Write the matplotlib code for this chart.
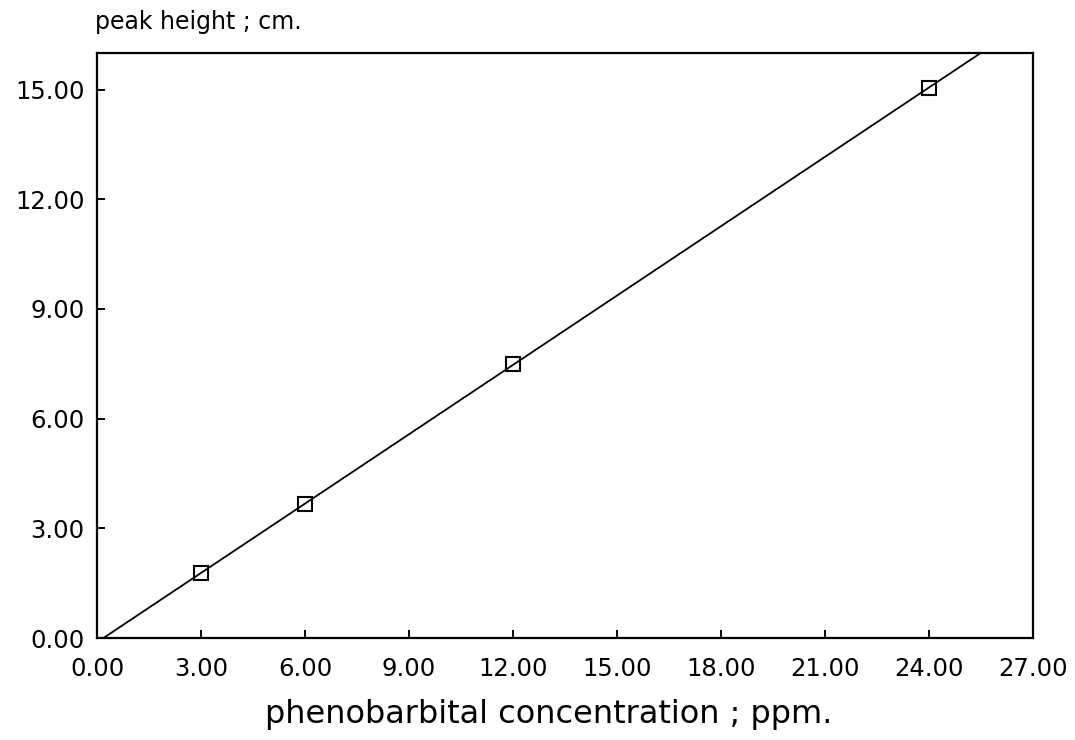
import numpy as np
import matplotlib.pyplot as plt

plt.rcParams['font.family'] = ['DejaVu Sans']

# phenobarbital standards: concentration (ppm) vs peak height (cm)
conc = [3.0, 6.0, 12.0, 24.0]
peak = [1.78, 3.66, 7.49, 15.05]

x_ticks = np.arange(0, 27.01, 3)
y_ticks = np.arange(0, 15.01, 3)

# least squares calibration line
slope, intercept = np.polyfit(conc, peak, 1)
xl = np.array([0, 27])

fig = plt.figure(figsize=(10.75, 7.4), dpi=100)
ax = fig.add_axes([97 / 1075, 1 - 638 / 740, (1033 - 97) / 1075, (638 - 53) / 740])

ax.plot(xl, slope * xl + intercept, color='black', lw=1.3)
ax.plot(conc, peak, 's', mfc='none', mec='black', ms=10, mew=1.5)

ax.set_xlim(0, 27)
ax.set_ylim(0, 16)
ax.set_xticks(x_ticks)
ax.set_yticks(y_ticks)
ax.set_xticklabels([f'{v:.2f}' for v in x_ticks])
ax.set_yticklabels([f'{v:.2f}' for v in y_ticks])
ax.tick_params(direction='in', length=6, width=1.4, labelsize=17.5)
ax.tick_params(axis='x', pad=14)
ax.tick_params(axis='y', pad=9)
for s in ax.spines.values():
    s.set_linewidth(1.6)

ax.set_xlabel('phenobarbital concentration ; ppm.', fontsize=23)
ax.xaxis.set_label_coords(0.483, -0.105)
fig.text(95 / 1075, 1 - 29 / 740, 'peak height ; cm.', fontsize=17, ha='left', va='baseline')

fig.savefig('out.png', dpi=100)
